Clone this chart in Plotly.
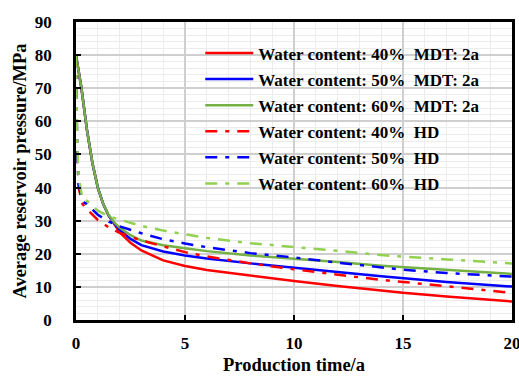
import plotly.graph_objects as go

# ---- data ----
t_mdt = [0, 0.1, 0.25, 0.5, 0.75, 1.0, 1.25, 1.5, 1.75, 2.0, 2.5, 3, 4, 5, 6, 8, 10, 12, 14, 15, 17, 20]
p40_mdt = [80, 76, 70, 57.5, 47.5, 40, 35, 31.5, 29, 26.5, 23.3, 21, 18, 16.3, 15.1, 13.4, 11.8, 10.3, 8.9, 8.2, 7.1, 5.6]
p50_mdt = [80, 76, 70, 57.5, 47.5, 40, 35, 31.5, 29.2, 27.3, 24.5, 22.6, 20.7, 19.5, 18.6, 17.1, 15.9, 14.5, 13.2, 12.6, 11.5, 10.1]
p60_mdt = [80, 76, 70, 57.5, 47.5, 40, 35, 31.7, 29.5, 27.9, 25.6, 24.0, 22.6, 21.7, 20.8, 19.5, 18.6, 17.5, 16.4, 16.0, 15.2, 13.9]

t_hd = [0, 0.05, 0.12, 0.3, 0.5, 1.0, 1.5, 2, 3, 4, 5, 6, 8, 10, 12, 14, 15, 17, 20]
p40_hd = [80, 52, 40, 35, 33.5, 30.2, 28, 26.3, 24, 22.3, 20.5, 19.2, 17.1, 15.3, 13.6, 12.1, 11.5, 10.2, 8.2]
p50_hd = [80, 53, 41, 35.8, 35, 31.8, 29.7, 28.3, 26.2, 24.4, 23.1, 22.0, 20.2, 18.9, 17.3, 15.8, 15.2, 14.2, 13.1]
p60_hd = [80, 55, 43, 36.5, 36, 33, 31.3, 30.3, 28.4, 27, 25.8, 24.8, 23.2, 22.1, 20.9, 19.6, 19.1, 18.3, 17.1]

x_ticks = [0, 5, 10, 15, 20]
y_ticks = [0, 10, 20, 30, 40, 50, 60, 70, 80, 90]

names = [
    "Water content: 40%\u00a0 MDT: 2a",
    "Water content: 50%\u00a0 MDT: 2a",
    "Water content: 60%\u00a0 MDT: 2a",
    "Water content: 40%\u00a0 HD",
    "Water content: 50%\u00a0 HD",
    "Water content: 60%\u00a0 HD",
]

FONT = "Liberation Serif"
RED, BLUE, GREEN, LGREEN = "#ff0000", "#0000ff", "#74b043", "#92d050"
DASHDOT = "12px,8px,4px,8px"

fig = go.Figure()
series = [
    (t_mdt, p40_mdt, RED, "solid"),
    (t_mdt, p50_mdt, BLUE, "solid"),
    (t_mdt, p60_mdt, GREEN, "solid"),
    (t_hd, p40_hd, RED, DASHDOT),
    (t_hd, p50_hd, BLUE, DASHDOT),
    (t_hd, p60_hd, LGREEN, DASHDOT),
]
for i, (x, y, c, d) in enumerate(series):
    fig.add_trace(go.Scatter(x=x, y=y, mode="lines", name=f"<b>{names[i]}</b>",
                             legendgroup=f"g{i}",
                             line=dict(color=c, width=2.5, dash=d)))

fig.update_layout(
    width=519, height=377,
    margin=dict(l=76, r=7, t=22, b=57),
    paper_bgcolor="white", plot_bgcolor="white",
    font=dict(family=FONT, size=15, color="black"),
    showlegend=True,
    legend=dict(x=0.285, y=0.955, xanchor="left", yanchor="top",
                bgcolor="rgba(0,0,0,0)", tracegroupgap=1, itemwidth=48,
                font=dict(family=FONT, size=17, color="black")),
)
fig.update_xaxes(
    range=[0, 20], tickmode="array", tickvals=x_ticks,
    ticktext=[f"<b>{v}</b>" for v in x_ticks],
    showline=True, linecolor="black", linewidth=2.5, mirror=True,
    ticks="inside", ticklen=5, tickwidth=2, tickcolor="black",
    showgrid=True, gridcolor="#cfcfcf", gridwidth=1.5,
    minor=dict(dtick=1, tick0=0, showgrid=True, gridcolor="#ececec", gridwidth=1),
    zeroline=False, ticklabelstandoff=6, automargin=False,
    ticklabeloverflow="allow",
    tickfont=dict(family=FONT, size=17),
    title=dict(text="<b>Production time/a</b>", standoff=6,
               font=dict(family=FONT, size=18.5)),
)
fig.update_yaxes(
    range=[0, 90], tickmode="array", tickvals=y_ticks,
    ticktext=[f"<b>{v}</b>" for v in y_ticks],
    showline=True, linecolor="black", linewidth=2.5, mirror=True,
    ticks="inside", ticklen=5, tickwidth=2, tickcolor="black",
    showgrid=True, gridcolor="#cfcfcf", gridwidth=1.5,
    minor=dict(dtick=2, tick0=0, showgrid=True, gridcolor="#ececec", gridwidth=1),
    zeroline=False, ticklabelstandoff=18, automargin=False,
    ticklabeloverflow="allow",
    tickfont=dict(family=FONT, size=17),
    title=dict(text="<b>Average reservoir pressure/MPa</b>", standoff=4,
               font=dict(family=FONT, size=18.5)),
)

fig.write_html("out.html")
